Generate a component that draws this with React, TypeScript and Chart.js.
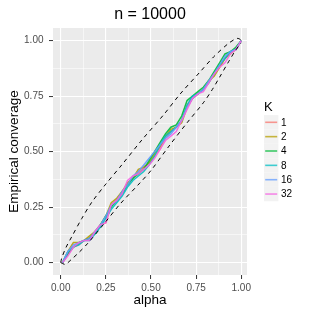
import React, { useEffect, useRef } from "react";
import { Chart, registerables } from "chart.js";

Chart.register(...registerables);

const TITLE = "n = 10000";
const X_TITLE = "alpha";
const Y_TITLE = "Empirical converage";
const LEGEND_TITLE = "K";

const K_LABELS = ["1", "2", "4", "8", "16", "32"];
const K_COLORS = ["#F8766D", "#B79F00", "#00BA38", "#00BFC4", "#619CFF", "#F564E3"];

const ALPHA = [0.01, 0.04, 0.07, 0.1, 0.13, 0.16, 0.19, 0.22, 0.25, 0.28, 0.31, 0.34, 0.37, 0.4, 0.43, 0.46, 0.49,
  0.52, 0.55, 0.58, 0.61, 0.64, 0.67, 0.7, 0.73, 0.76, 0.79, 0.82, 0.85, 0.88, 0.91, 0.94, 0.97, 1.0];

const K1 = [0.0, 0.04, 0.07, 0.08, 0.1, 0.11, 0.14, 0.17, 0.18, 0.26, 0.28, 0.32, 0.35, 0.38, 0.41, 0.43, 0.45,
  0.48, 0.51, 0.56, 0.59, 0.61, 0.64, 0.71, 0.74, 0.76, 0.78, 0.81, 0.85, 0.88, 0.92, 0.95, 0.96, 1.0];
const K2 = [0.0, 0.05, 0.09, 0.09, 0.1, 0.12, 0.14, 0.17, 0.21, 0.27, 0.29, 0.32, 0.36, 0.38, 0.42, 0.43, 0.45,
  0.49, 0.52, 0.57, 0.6, 0.61, 0.63, 0.7, 0.74, 0.76, 0.78, 0.82, 0.84, 0.88, 0.92, 0.94, 0.96, 1.0];
const K4 = [0.0, 0.04, 0.07, 0.09, 0.1, 0.11, 0.13, 0.17, 0.21, 0.25, 0.28, 0.31, 0.35, 0.38, 0.4, 0.42, 0.46,
  0.5, 0.54, 0.58, 0.61, 0.62, 0.66, 0.73, 0.75, 0.77, 0.79, 0.82, 0.86, 0.9, 0.94, 0.95, 0.97, 1.0];
const K8 = [0.0, 0.05, 0.07, 0.08, 0.1, 0.1, 0.13, 0.16, 0.2, 0.24, 0.27, 0.3, 0.34, 0.37, 0.39, 0.41, 0.44,
  0.48, 0.53, 0.57, 0.59, 0.61, 0.64, 0.71, 0.75, 0.76, 0.78, 0.81, 0.85, 0.89, 0.92, 0.95, 0.96, 1.0];
const K16 = [0.0, 0.05, 0.08, 0.09, 0.1, 0.11, 0.14, 0.17, 0.21, 0.26, 0.28, 0.32, 0.35, 0.39, 0.41, 0.44, 0.47,
  0.5, 0.53, 0.56, 0.58, 0.61, 0.64, 0.7, 0.74, 0.76, 0.78, 0.82, 0.85, 0.89, 0.93, 0.95, 0.96, 1.0];
const K32 = [0.0, 0.03, 0.07, 0.09, 0.1, 0.1, 0.14, 0.17, 0.18, 0.26, 0.28, 0.31, 0.37, 0.39, 0.4, 0.42, 0.44,
  0.47, 0.51, 0.55, 0.57, 0.59, 0.64, 0.69, 0.74, 0.76, 0.77, 0.81, 0.85, 0.88, 0.9, 0.94, 0.96, 1.0];
const SERIES = [K1, K2, K4, K8, K16, K32];

// dashed envelope (upper and lower branches)
const UPPER_X = [0.0, 0.005, 0.03, 0.06, 0.116, 0.172, 0.246, 0.338, 0.449, 0.569, 0.662, 0.773, 0.846, 0.93, 0.976, 0.995, 1.0];
const UPPER_Y = [0.0, 0.02, 0.07, 0.115, 0.198, 0.272, 0.35, 0.44, 0.552, 0.665, 0.76, 0.86, 0.926, 0.988, 1.01, 1.005, 0.99];
const LOWER_X = [0.0, 0.025, 0.06, 0.1, 0.15, 0.25, 0.33, 0.44, 0.5, 0.6, 0.7, 0.79, 0.84, 0.88, 0.93, 0.97, 1.0];
const LOWER_Y = [0.0, -0.008, 0.015, 0.045, 0.087, 0.185, 0.265, 0.36, 0.415, 0.525, 0.63, 0.72, 0.78, 0.835, 0.905, 0.958, 0.99];

const GRID_TICKS = [0, 0.125, 0.25, 0.375, 0.5, 0.625, 0.75, 0.875, 1];

const FONT = "'Liberation Sans', Arial, Helvetica, sans-serif";

const isMajor = (v: number) => Math.abs(v * 4 - Math.round(v * 4)) < 1e-6;

function withAlpha(hex: string, a: number) {
  const r = parseInt(hex.slice(1, 3), 16);
  const g = parseInt(hex.slice(3, 5), 16);
  const b = parseInt(hex.slice(5, 7), 16);
  return `rgba(${r},${g},${b},${a})`;
}

const decorPlugin = {
  id: "decor",
  beforeDraw(chart: any) {
    const { ctx, chartArea } = chart;
    ctx.save();
    ctx.fillStyle = "#FFFFFF";
    ctx.fillRect(0, 0, chart.width, chart.height);
    ctx.fillStyle = "#EBEBEB";
    ctx.fillRect(chartArea.left, chartArea.top, chartArea.right - chartArea.left, chartArea.bottom - chartArea.top);
    ctx.restore();
  },
  afterDraw(chart: any) {
    const { ctx, chartArea } = chart;
    ctx.save();
    // title
    ctx.fillStyle = "#000000";
    ctx.font = `16px ${FONT}`;
    ctx.textAlign = "center";
    ctx.textBaseline = "alphabetic";
    ctx.fillText(TITLE, (chartArea.left + chartArea.right) / 2, 18.5);

    // legend
    const lx = 264;
    ctx.textAlign = "left";
    ctx.font = `13px ${FONT}`;
    ctx.fillText(LEGEND_TITLE, lx, 110.7);
    const rowH = 14.35;
    const firstY = 122.3;
    K_LABELS.forEach((lab, i) => {
      const cy = firstY + i * rowH;
      ctx.fillStyle = "#F2F2F2";
      ctx.fillRect(lx, cy - rowH / 2, 14.4, rowH);
      ctx.strokeStyle = withAlpha(K_COLORS[i], 0.75);
      ctx.lineWidth = 1.6;
      ctx.beginPath();
      ctx.moveTo(lx + 1.2, cy);
      ctx.lineTo(lx + 13.2, cy);
      ctx.stroke();
      ctx.fillStyle = "#000000";
      ctx.font = `10px ${FONT}`;
      ctx.textBaseline = "middle";
      ctx.fillText(lab, 281, cy + 0.5);
    });
    ctx.restore();
  },
};

export default function App() {
  const ref = useRef<HTMLCanvasElement | null>(null);

  useEffect(() => {
    if (!ref.current) return;
    const lineDatasets = SERIES.map((ys, i) => ({
      label: K_LABELS[i],
      data: ALPHA.map((a, j) => ({ x: a, y: ys[j] })),
      borderColor: withAlpha(K_COLORS[i], 0.9),
      borderWidth: 1.5,
      pointRadius: 0,
      tension: 0,
      fill: false,
      order: SERIES.length - i,
    }));
    const dashed = [
      { xs: UPPER_X, ys: UPPER_Y },
      { xs: LOWER_X, ys: LOWER_Y },
    ].map((d, i) => ({
      label: i === 0 ? "upper" : "lower",
      data: d.xs.map((x, j) => ({ x, y: d.ys[j] })),
      borderColor: "#000000",
      borderWidth: 1,
      borderDash: [4, 4],
      pointRadius: 0,
      tension: 0.3,
      fill: false,
      order: -1,
    }));

    const tickSetter = (scale: any) => {
      scale.ticks = GRID_TICKS.map((v) => ({ value: v }));
    };
    const gridOpts = {
      color: "#FFFFFF",
      lineWidth: (c: any) => (c.tick && isMajor(c.tick.value) ? 1.1 : 0.55),
      tickColor: (c: any) => (c.tick && isMajor(c.tick.value) ? "#333333" : "rgba(0,0,0,0)"),
      tickLength: 4,
      tickWidth: 1,
      drawTicks: true,
    };
    const tickFont = { family: FONT, size: 10 };

    const chart = new Chart(ref.current, {
      type: "line",
      data: { datasets: [...dashed, ...lineDatasets] as any },
      options: {
        animation: false,
        responsive: false,
        events: [],
        layout: { padding: { top: 28, right: 68, left: 0, bottom: 0 } },
        plugins: {
          legend: { display: false },
          tooltip: { enabled: false },
          title: { display: false },
        },
        scales: {
          x: {
            type: "linear",
            min: -0.043,
            max: 1.032,
            afterBuildTicks: tickSetter,
            afterFit: (s: any) => {
              s.height = 40;
            },
            border: { display: false },
            grid: gridOpts as any,
            ticks: {
              autoSkip: false,
              maxRotation: 0,
              padding: 3,
              color: "#4D4D4D",
              font: tickFont,
              callback: (v: any) => (isMajor(Number(v)) ? Number(v).toFixed(2) : ""),
            },
            title: {
              display: true,
              text: X_TITLE,
              color: "#000000",
              font: { family: FONT, size: 13.5 },
              padding: { top: 0, bottom: 7 },
            },
          },
          y: {
            type: "linear",
            min: -0.056,
            max: 1.057,
            afterBuildTicks: tickSetter,
            afterFit: (s: any) => {
              s.width = 53;
            },
            border: { display: false },
            grid: gridOpts as any,
            ticks: {
              autoSkip: false,
              padding: 5.5,
              color: "#4D4D4D",
              font: tickFont,
              callback: (v: any) => (isMajor(Number(v)) ? Number(v).toFixed(2) : ""),
            },
            title: {
              display: true,
              text: Y_TITLE,
              color: "#000000",
              font: { family: FONT, size: 13.5 },
              padding: { top: 6.6, bottom: 0 },
            },
          },
        },
      },
      plugins: [decorPlugin],
    });
    return () => chart.destroy();
  }, []);

  return (
    <div style={{ position: "absolute", left: 0, top: 0, width: 315, height: 315, background: "#fff" }}>
      <canvas ref={ref} width={315} height={315} style={{ display: "block", width: 315, height: 315 }} />
    </div>
  );
}
